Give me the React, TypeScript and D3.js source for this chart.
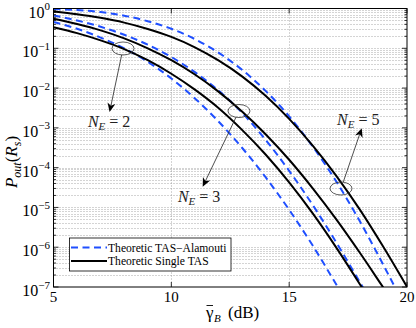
import React from 'react';
import * as d3 from 'd3';

// ---- data (SNR in dB, outage probability) ----
const snrDb = [5, 6, 7, 8, 9, 10, 11, 12, 13, 14, 15, 16, 17, 18, 19, 20];

// Theoretic TAS-Alamouti (blue dashed)
const alamoutiN2 = [0.457, 0.309, 0.186, 0.1, 0.0457, 0.0174, 5.5e-3, 1.45e-3, 3.16e-4, 5.75e-5, 8.71e-6, 1.1e-6, 1.15e-7, 1.12e-8];
const alamoutiN3 = [0.667, 0.501, 0.347, 0.219, 0.123, 0.0603, 0.0251, 8.71e-3, 2.4e-3, 5.01e-4, 8.32e-5, 1.15e-5, 1.32e-6, 1.32e-7, 1.26e-8];
const alamoutiN5 = [0.977, 0.912, 0.813, 0.661, 0.479, 0.309, 0.17, 0.0776, 0.0288, 8.51e-3, 1.95e-3, 3.39e-4, 4.47e-5, 4.47e-6, 3.55e-7, 2.51e-8];

// Theoretic Single TAS (black solid)
const singleN2 = [0.339, 0.24, 0.158, 0.0955, 0.0501, 0.0229, 9.12e-3, 3.16e-3, 8.91e-4, 2.14e-4, 4.27e-5, 7.08e-6, 9.77e-7, 1.17e-7, 1.26e-8];
const singleN3 = [0.552, 0.407, 0.282, 0.178, 0.1, 0.0501, 0.0219, 8.13e-3, 2.57e-3, 6.92e-4, 1.58e-4, 3.02e-5, 5.01e-6, 7.24e-7, 9.55e-8, 1.26e-8];
const singleN5 = [0.841, 0.716, 0.582, 0.442, 0.305, 0.193, 0.106, 0.0495, 0.0197, 6.38e-3, 1.68e-3, 3.59e-4, 6.24e-5, 8.81e-6, 1.01e-6, 1.01e-7];

const xTicks = [5, 10, 15, 20];
const yTickExps = [0, -1, -2, -3, -4, -5, -6, -7];
const legendLabels = ['Theoretic TAS\u2212Alamouti', 'Theoretic Single TAS'];

// annotations (data coordinates)
const annLabels = ['2', '3', '5'];
const ellipseDb = [7.95, 12.87, 17.2];
const ellipseP = [0.0988, 2.65e-3, 2.99e-5];
const arrowEndDb = [7.38, 11.33, 18.08];
const arrowEndP = [2.5e-3, 3.3e-5, 9.8e-4];
const labelDb = [6.46, 10.28, 17.03];
const labelP = [1.05e-3, 1.37e-5, 1.18e-3];

const FONT = "'Liberation Serif', 'Times New Roman', serif";

export default function App() {
  const W = 416, H = 328;
  const L = 53.5, R = 407, T = 8.5, B = 287;
  const x = d3.scaleLinear().domain([5, 20]).range([L, R]);
  const y = d3.scaleLog().domain([1e-7, 1]).range([B, T]);

  const line = d3.line<[number, number]>()
    .x(d => x(d[0]))
    .y(d => y(d[1]))
    .curve(d3.curveMonotoneX);
  const toPts = (arr: number[]) => arr.map((v, i) => [snrDb[i], v] as [number, number]);

  const blue = [alamoutiN2, alamoutiN3, alamoutiN5];
  const black = [singleN2, singleN3, singleN5];

  const majors = yTickExps.map(e => Math.pow(10, e));
  const minors: number[] = [];
  for (let e = -7; e < 0; e++) for (let k = 2; k <= 9; k++) minors.push(k * Math.pow(10, e));

  const blueColor = '#1f4fff';
  const gridColor = '#939393';

  const rx = 11, ry = 6.5;

  return (
    <svg width={W} height={H} style={{ position: 'absolute', left: 0, top: 0, background: '#fff' }} fontFamily={FONT}>
      <defs>
        <clipPath id="plotclip">
          <rect x={L} y={T} width={R - L} height={B - T} />
        </clipPath>
      </defs>
      <rect x={0} y={0} width={W} height={H} fill="#fff" />
      {/* grid */}
      <g stroke={gridColor} strokeWidth={0.8} strokeDasharray="1 2" fill="none">
        {minors.concat(majors.slice(1, -1)).map((v, i) => (
          <line key={'h' + i} x1={L} x2={R} y1={Math.round(y(v)) + 0.5} y2={Math.round(y(v)) + 0.5} />
        ))}
        {xTicks.slice(1, -1).map((v, i) => (
          <line key={'v' + i} x1={Math.round(x(v)) + 0.5} x2={Math.round(x(v)) + 0.5} y1={T} y2={B} />
        ))}
      </g>
      {/* curves */}
      <g clipPath="url(#plotclip)" fill="none">
        {blue.map((arr, i) => (
          <path key={'b' + i} d={line(toPts(arr)) || ''} stroke={blueColor} strokeWidth={2} strokeDasharray="7 4.5" />
        ))}
        {black.map((arr, i) => (
          <path key={'k' + i} d={line(toPts(arr)) || ''} stroke="#000" strokeWidth={2} />
        ))}
      </g>
      {/* ticks */}
      <g stroke="#000" strokeWidth={0.8}>
        {majors.map((v, i) => (
          <g key={'yt' + i}>
            <line x1={L} x2={L + 5} y1={y(v)} y2={y(v)} />
            <line x1={R} x2={R - 5} y1={y(v)} y2={y(v)} />
          </g>
        ))}
        {minors.map((v, i) => (
          <g key={'ym' + i}>
            <line x1={L} x2={L + 2.5} y1={y(v)} y2={y(v)} />
            <line x1={R} x2={R - 2.5} y1={y(v)} y2={y(v)} />
          </g>
        ))}
        {xTicks.map((v, i) => (
          <g key={'xt' + i}>
            <line x1={x(v)} x2={x(v)} y1={B} y2={B - 5} />
            <line x1={x(v)} x2={x(v)} y1={T} y2={T + 5} />
          </g>
        ))}
      </g>
      {/* box */}
      <rect x={L} y={T} width={R - L} height={B - T} fill="none" stroke="#000" strokeWidth={1} />
      {/* tick labels */}
      <g fill="#000">
        {yTickExps.map((e, i) => (
          <text key={'yl' + i} x={50} y={y(Math.pow(10, e)) + 9} textAnchor="end" fontSize={16}>
            <tspan>10</tspan>
            <tspan dy={-7.4} fontSize={11}>{e === 0 ? '0' : '\u2212' + Math.abs(e)}</tspan>
          </text>
        ))}
        {xTicks.map((v, i) => (
          <text key={'xl' + i} x={x(v)} y={302} textAnchor="middle" fontSize={15}>{v}</text>
        ))}
      </g>
      {/* x label */}
      <g fill="#000">
        <text x={206} y={318} fontSize={17}>γ</text>
        <line x1={206.5} x2={213} y1={305.5} y2={305.5} stroke="#000" strokeWidth={0.9} />
        <text x={214} y={322} fontSize={11} fontStyle="italic">B</text>
        <text x={228} y={318} fontSize={17}>(dB)</text>
      </g>
      {/* y label */}
      <text transform={`translate(17,${162}) rotate(-90)`} textAnchor="middle" fontSize={17} fill="#000">
        <tspan fontStyle="italic">P</tspan>
        <tspan fontStyle="italic" fontSize={12} dy={4}>out</tspan>
        <tspan dy={-4}>(</tspan>
        <tspan fontStyle="italic">R</tspan>
        <tspan fontStyle="italic" fontSize={12} dy={4}>s</tspan>
        <tspan dy={-4}>)</tspan>
      </text>
      {/* annotations */}
      {annLabels.map((lab, i) => {
        const cx = x(ellipseDb[i]), cy = y(ellipseP[i]);
        const ex = x(arrowEndDb[i]), ey = y(arrowEndP[i]);
        let ux = (ex - cx) / rx, uy = (ey - cy) / ry;
        const n = Math.hypot(ux, uy);
        ux /= n; uy /= n;
        const sx = cx + rx * ux, sy = cy + ry * uy;
        const dx = ex - sx, dy = ey - sy;
        const len = Math.hypot(dx, dy);
        const dxn = dx / len, dyn = dy / len;
        const px = -dyn, py = dxn;
        const hl = 9, hw = 4;
        const bx = ex - dxn * hl, by = ey - dyn * hl;
        const nx = ex - dxn * hl * 0.7, ny = ey - dyn * hl * 0.7;
        const head = `${ex},${ey} ${bx + px * hw},${by + py * hw} ${nx},${ny} ${bx - px * hw},${by - py * hw}`;
        const tx = x(labelDb[i]), ty = y(labelP[i]);
        return (
          <g key={'ann' + i}>
            <ellipse cx={cx} cy={cy} rx={rx} ry={ry} fill="none" stroke="#333" strokeWidth={0.8} />
            <line x1={sx} y1={sy} x2={nx} y2={ny} stroke="#222" strokeWidth={0.8} />
            <polygon points={head} fill="#000" />
            <text x={tx} y={ty} fontSize={16} fill="#222">
              <tspan fontStyle="italic">N</tspan>
              <tspan fontStyle="italic" fontSize={11} dy={3}>E</tspan>
              <tspan dy={-3}>{' = ' + lab}</tspan>
            </text>
          </g>
        );
      })}
      {/* legend */}
      <g>
        <rect x={69.5} y={238} width={161.5} height={33} fill="#fff" stroke="#000" strokeWidth={0.8} />
        <line x1={71} x2={107} y1={247.5} y2={247.5} stroke={blueColor} strokeWidth={2} strokeDasharray="7 4.5" />
        <line x1={71} x2={107} y1={261} y2={261} stroke="#000" strokeWidth={2} />
        <text x={108} y={251.5} fontSize={11.6} fill="#000">{legendLabels[0]}</text>
        <text x={108} y={265} fontSize={11.6} fill="#000">{legendLabels[1]}</text>
      </g>
    </svg>
  );
}
